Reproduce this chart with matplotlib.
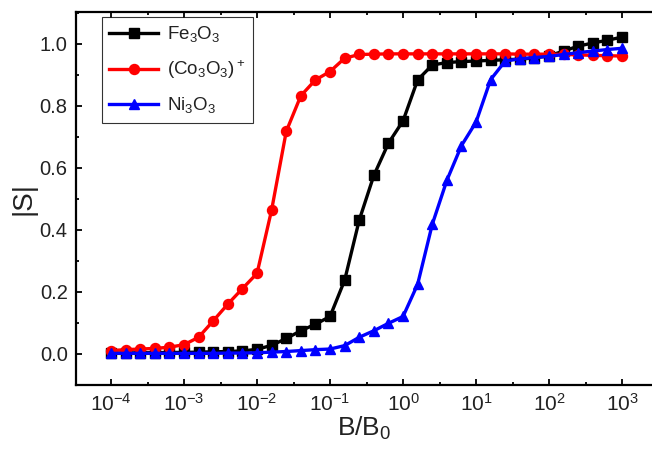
import numpy as np
import matplotlib
matplotlib.use("Agg")
import matplotlib.pyplot as plt
from matplotlib.ticker import FixedLocator, LogFormatterMathtext, MultipleLocator, NullFormatter

plt.rcParams['font.family'] = ['Liberation Sans', 'DejaVu Sans']
plt.rcParams['mathtext.fontset'] = 'custom'
plt.rcParams['mathtext.rm'] = 'Liberation Sans'
plt.rcParams['mathtext.it'] = 'Liberation Sans'

# field values: 10^-4 ... 10^3 in steps of 0.2 decade
log_b = [-4.0, -3.8, -3.6, -3.4, -3.2, -3.0, -2.8, -2.6, -2.4, -2.2,
         -2.0, -1.8, -1.6, -1.4, -1.2, -1.0, -0.8, -0.6, -0.4, -0.2,
         0.0, 0.2, 0.4, 0.6, 0.8, 1.0, 1.2, 1.4, 1.6, 1.8,
         2.0, 2.2, 2.4, 2.6, 2.8, 3.0]
B = [10 ** v for v in log_b]

fe = [0.003, 0.003, 0.004, 0.004, 0.005, 0.005, 0.006, 0.007, 0.008, 0.010,
      0.015, 0.028, 0.050, 0.075, 0.096, 0.121, 0.238, 0.432, 0.576, 0.680,
      0.752, 0.884, 0.932, 0.940, 0.943, 0.945, 0.947, 0.949, 0.951, 0.955,
      0.962, 0.977, 0.993, 1.003, 1.012, 1.022]

co = [0.011, 0.014, 0.016, 0.018, 0.022, 0.030, 0.054, 0.107, 0.161, 0.211,
      0.260, 0.465, 0.718, 0.833, 0.884, 0.911, 0.954, 0.966, 0.967, 0.968,
      0.968, 0.968, 0.968, 0.968, 0.968, 0.968, 0.968, 0.968, 0.967, 0.967,
      0.967, 0.966, 0.965, 0.963, 0.962, 0.961]

ni = [0.002, 0.002, 0.002, 0.002, 0.002, 0.002, 0.002, 0.002, 0.003, 0.003,
      0.004, 0.006, 0.008, 0.011, 0.014, 0.016, 0.027, 0.054, 0.075, 0.099,
      0.121, 0.225, 0.418, 0.560, 0.672, 0.748, 0.885, 0.945, 0.952, 0.956,
      0.960, 0.966, 0.972, 0.977, 0.982, 0.986]

labels = [r'Fe$_3$O$_3$', r'(Co$_3$O$_3$)$^+$', r'Ni$_3$O$_3$']

fig = plt.figure(figsize=(6.52, 4.51), dpi=100)
ax = fig.add_axes([76/652, 1 - 385/451, 1 - 76/652, (385 - 12)/451])

lw = 2.4
ax.plot(B, fe, '-s', color='black', lw=lw, ms=6.5, label=labels[0])
ax.plot(B, co, '-o', color='red', lw=lw, ms=7.2, label=labels[1])
ax.plot(B, ni, '-^', color='blue', lw=lw, ms=7.8, label=labels[2])

ax.set_xscale('log')
ax.set_xlim(10 ** (-4.48), 10 ** 3.41)
ax.set_ylim(-0.1, 1.103)

ax.xaxis.set_major_locator(FixedLocator([10.0 ** k for k in range(-4, 4)]))
ax.xaxis.set_major_formatter(LogFormatterMathtext())
ax.xaxis.set_minor_locator(FixedLocator([10.0 ** (k + 0.5) for k in range(-5, 4)]))
ax.xaxis.set_minor_formatter(NullFormatter())
ax.yaxis.set_minor_locator(MultipleLocator(0.1))
ax.set_yticks([0.0, 0.2, 0.4, 0.6, 0.8, 1.0])
ax.set_yticklabels(['0.0', '0.2', '0.4', '0.6', '0.8', '1.0'])

ax.tick_params(which='both', direction='in', top=True, right=False, width=1.3,
               colors='black')
ax.tick_params(which='major', length=4.5, pad=6)
ax.tick_params(which='minor', length=2.5)
ax.tick_params(axis='x', labelsize=15, labelcolor='#222222')
ax.tick_params(axis='y', labelsize=14.5, labelcolor='#222222')

for s in ['left', 'bottom', 'top']:
    ax.spines[s].set_linewidth(1.6)
ax.spines['right'].set_visible(False)

ax.set_xlabel(r'B/B$_0$', fontsize=19, color='#222222', labelpad=0)
ax.set_ylabel('|S|', fontsize=20, color='#222222', labelpad=2)

leg = ax.legend(loc='upper left', bbox_to_anchor=(0.045, 0.987), fontsize=13.5,
                frameon=True, fancybox=False, handlelength=2.6, borderpad=0.4,
                labelspacing=0.75, handletextpad=0.45, borderaxespad=0)
leg.get_frame().set_edgecolor('black')
leg.get_frame().set_linewidth(0.8)
for t in leg.get_texts():
    t.set_color('#222222')

fig.savefig('out.png', dpi=100)
